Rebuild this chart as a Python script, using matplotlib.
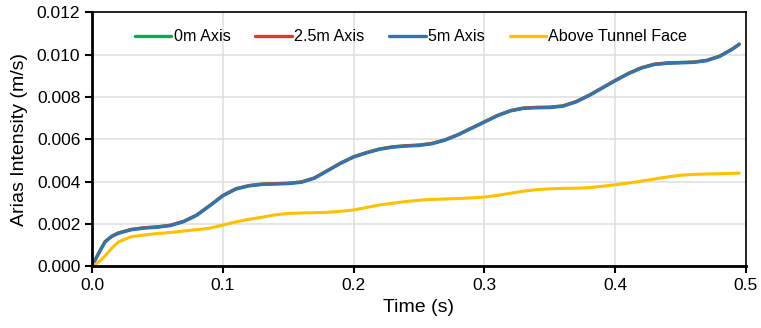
import matplotlib.pyplot as plt

plt.rcParams['font.family'] = ['Liberation Sans', 'DejaVu Sans']

# time samples (s)
t = [0.0, 0.005, 0.01, 0.015, 0.02, 0.03, 0.04, 0.05, 0.06, 0.07, 0.08, 0.09,
     0.10, 0.11, 0.12, 0.13, 0.14, 0.15, 0.16, 0.17, 0.18, 0.19, 0.20, 0.21,
     0.22, 0.23, 0.24, 0.25, 0.26, 0.27, 0.28, 0.29, 0.30, 0.31, 0.32, 0.33,
     0.34, 0.35, 0.36, 0.37, 0.38, 0.39, 0.40, 0.41, 0.42, 0.43, 0.44, 0.45,
     0.46, 0.47, 0.48, 0.49, 0.495]

# Arias intensity (m/s)
axis_5m = [0.0, 0.0006, 0.00115, 0.00140, 0.00155, 0.00172, 0.00180, 0.00184,
           0.00192, 0.00210, 0.00240, 0.00285, 0.00332, 0.00364, 0.00379, 0.00386,
           0.00388, 0.00390, 0.00396, 0.00415, 0.00450, 0.00485, 0.00515, 0.00535,
           0.00552, 0.00562, 0.00567, 0.00570, 0.00578, 0.00595, 0.00620, 0.00650,
           0.00680, 0.00710, 0.00733, 0.00745, 0.00748, 0.00749, 0.00755, 0.00775,
           0.00805, 0.00840, 0.00875, 0.00908, 0.00935, 0.00952, 0.00958, 0.00960,
           0.00962, 0.00970, 0.00990, 0.01025, 0.01047]
axis_0m = [v + 0.00003 for v in axis_5m]
axis_25m = [v + 0.00002 for v in axis_5m]
tunnel_face = [0.0, 0.0002, 0.0005, 0.00085, 0.00115, 0.00140, 0.00148, 0.00155,
               0.00160, 0.00167, 0.00173, 0.00180, 0.00195, 0.00210, 0.00222, 0.00232,
               0.00243, 0.00250, 0.00252, 0.00253, 0.00255, 0.00260, 0.00266, 0.00278,
               0.00290, 0.00298, 0.00306, 0.00312, 0.00316, 0.00318, 0.00320, 0.00323,
               0.00327, 0.00335, 0.00345, 0.00355, 0.00362, 0.00366, 0.00368, 0.00369,
               0.00371, 0.00378, 0.00385, 0.00393, 0.00402, 0.00412, 0.00422, 0.00430,
               0.00434, 0.00436, 0.00437, 0.00439, 0.00440]

series = [
    ('0m Axis', axis_0m, '#00B050'),
    ('2.5m Axis', axis_25m, '#E8352B'),
    ('5m Axis', axis_5m, '#2E75B6'),
    ('Above Tunnel Face', tunnel_face, '#FFC000'),
]

fig = plt.figure(figsize=(7.61, 3.28), dpi=100)
ax = fig.add_axes([0.121, 0.188, 0.859, 0.775])

for name, vals, col in series:
    ax.plot(t, vals, color=col, lw=2.2, label=name,
            solid_capstyle='round', solid_joinstyle='round')

ax.set_xlim(0, 0.5)
ax.set_ylim(0, 0.012)
ax.set_xticks([0.0, 0.1, 0.2, 0.3, 0.4, 0.5])
ax.set_xticklabels(['0.0', '0.1', '0.2', '0.3', '0.4', '0.5'])
ax.set_yticks([0.0, 0.002, 0.004, 0.006, 0.008, 0.010, 0.012])
ax.set_yticklabels(['0.000', '0.002', '0.004', '0.006', '0.008', '0.010', '0.012'])
ax.tick_params(labelsize=12.5, direction='out', length=5, width=1.5, color='black')
ax.grid(True, color='#E0E0E0', lw=1.2)
ax.set_axisbelow(True)

for side in ['left', 'bottom']:
    ax.spines[side].set_linewidth(2)
for side in ['top', 'right']:
    ax.spines[side].set_linewidth(1.2)

ax.set_xlabel('Time (s)', fontsize=14, labelpad=4)
ax.set_ylabel('Arias Intensity (m/s)', fontsize=14, labelpad=6)

leg = ax.legend(loc='upper center', ncol=4, frameon=False, fontsize=11.6,
                handlelength=2.25, handletextpad=0.15, columnspacing=1.55,
                bbox_to_anchor=(0.488, 0.99))
for h in leg.get_lines():
    h.set_linewidth(2.4)

fig.savefig('out.png', dpi=100)
